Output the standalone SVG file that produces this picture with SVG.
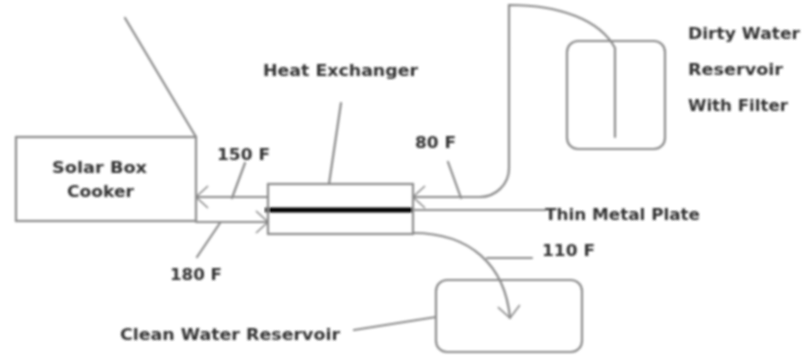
<svg xmlns="http://www.w3.org/2000/svg" width="804" height="356" viewBox="0 0 804 356">
<defs>
<style>
.l{fill:none;stroke:#8a8a8a;stroke-width:2.2;stroke-linecap:round}
.t{font-family:"DejaVu Sans",Verdana,sans-serif;font-weight:bold;font-size:16px;fill:#333}
</style>
<filter id="b" x="-5%" y="-5%" width="110%" height="110%"><feGaussianBlur stdDeviation="0.8"/></filter>
<marker id="a" markerWidth="26" markerHeight="26" refX="15" refY="13" orient="auto" markerUnits="userSpaceOnUse"><path d="M3 2L15 13L3 24" fill="none" stroke="#8a8a8a" stroke-width="1.6"/></marker>
</defs>
<rect width="804" height="356" fill="#fff"/>
<g filter="url(#b)">
<g id="connectors">
<path class="l" d="M125 18L196 137"/>
<path class="l" marker-end="url(#a)" d="M268 197H196"/>
<path class="l" marker-end="url(#a)" d="M196 222H268"/>
<path class="l" marker-end="url(#a)" d="M615 137V48C600 20 560 5 509 5V168C509 185 495 197 480 197H413"/>
<path class="l" d="M413 210H545"/>
<path class="l" marker-end="url(#a)" d="M413 233C470 233 505 265 510 318"/>
<path class="l" d="M341 103L329 184M245 163L232 198M220 223L197 257M448 162L461 198M487 258H532M354 330L436 317"/>
<path d="M265 210H413" fill="none" stroke="#000" stroke-width="5"/>
</g>
<g id="solar-box-cooker"><rect class="l" x="16" y="137" width="180" height="84"/><text class="t" x="52" y="173" textLength="95" lengthAdjust="spacingAndGlyphs">Solar Box</text><text class="t" x="67" y="197" textLength="67" lengthAdjust="spacingAndGlyphs">Cooker</text></g>
<g id="heat-exchanger"><rect class="l" x="268" y="184" width="145" height="50"/><text class="t" x="263" y="76" textLength="155" lengthAdjust="spacingAndGlyphs">Heat Exchanger</text></g>
<g id="dirty-water-reservoir"><rect class="l" x="567" y="41" width="98" height="108" rx="11"/><text class="t" x="688" y="39" textLength="112" lengthAdjust="spacingAndGlyphs">Dirty Water</text><text class="t" x="688" y="75" textLength="95" lengthAdjust="spacingAndGlyphs">Reservoir</text><text class="t" x="688" y="111" textLength="100" lengthAdjust="spacingAndGlyphs">With Filter</text></g>
<g id="clean-water-reservoir"><rect class="l" x="436" y="280" width="146" height="72" rx="11"/><text class="t" x="120" y="340" textLength="220" lengthAdjust="spacingAndGlyphs">Clean Water Reservoir</text></g>
<g id="labels">
<text class="t" x="217" y="160" textLength="53" lengthAdjust="spacingAndGlyphs">150 F</text>
<text class="t" x="170" y="280" textLength="52" lengthAdjust="spacingAndGlyphs">180 F</text>
<text class="t" x="415" y="148" textLength="41" lengthAdjust="spacingAndGlyphs">80 F</text>
<text class="t" x="542" y="256" textLength="53" lengthAdjust="spacingAndGlyphs">110 F</text>
<text class="t" x="545" y="220" textLength="155" lengthAdjust="spacingAndGlyphs">Thin Metal Plate</text>
</g>
</g>
</svg>
